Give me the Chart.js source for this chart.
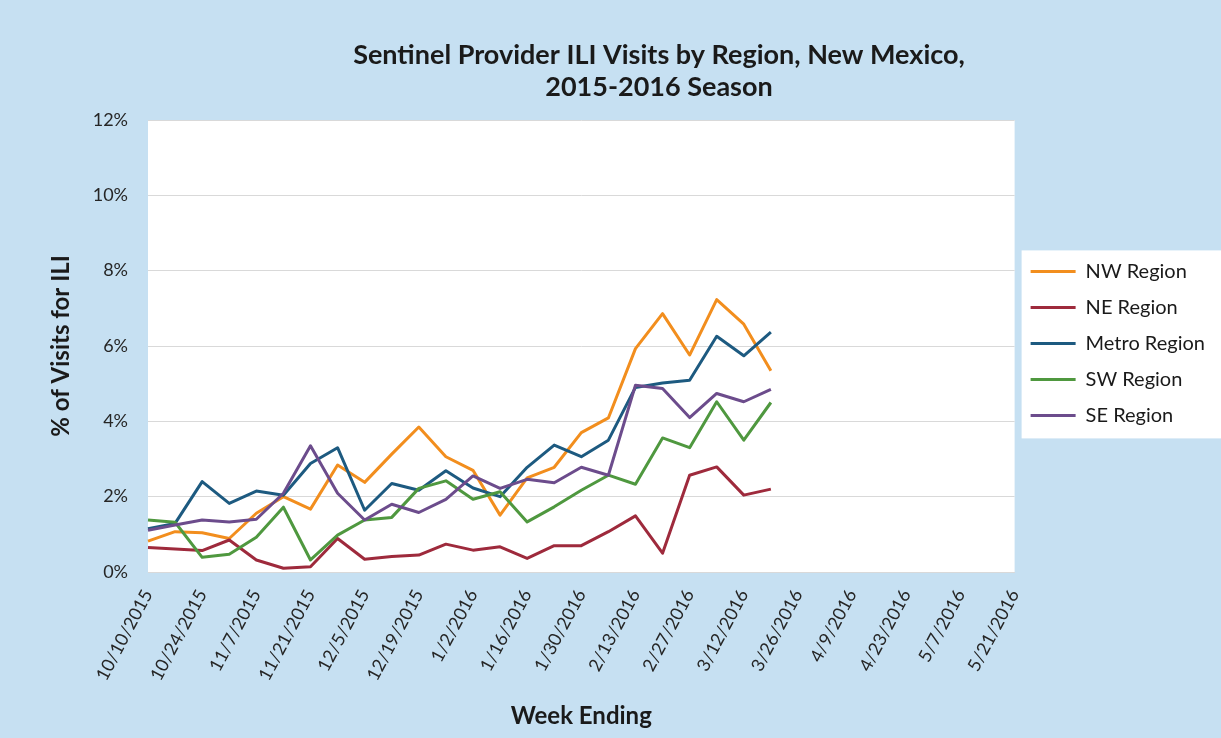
<!DOCTYPE html>
<html>
<head>
<meta charset="utf-8">
<script src="https://cdn.jsdelivr.net/npm/chart.js@4"></script>
<style>
  body { margin: 0; background: #c6e0f2; }
  #wrap { width: 1221px; height: 738px; }
</style>
</head>
<body>
<div id="wrap"><canvas id="iliChart" width="1221" height="738"></canvas></div>
<script>
// week ending dates, every week of the season
var weeks = ['10/10/2015','10/17/2015','10/24/2015','10/31/2015','11/7/2015','11/14/2015','11/21/2015',
  '11/28/2015','12/5/2015','12/12/2015','12/19/2015','12/26/2015','1/2/2016','1/9/2016','1/16/2016',
  '1/23/2016','1/30/2016','2/6/2016','2/13/2016','2/20/2016','2/27/2016','3/5/2016','3/12/2016',
  '3/19/2016','3/26/2016','4/2/2016','4/9/2016','4/16/2016','4/23/2016','4/30/2016','5/7/2016',
  '5/14/2016','5/21/2016'];

// % of visits for ILI
var nwRegion = [0.82,1.07,1.04,0.89,1.56,2.00,1.67,2.84,2.38,3.13,3.85,3.06,2.70,1.51,2.50,2.78,3.70,4.09,5.93,6.86,5.76,7.23,6.58,5.34];
var neRegion = [0.65,0.61,0.57,0.85,0.32,0.10,0.14,0.89,0.34,0.41,0.45,0.74,0.58,0.67,0.36,0.70,0.70,1.07,1.49,0.50,2.57,2.79,2.04,2.20];
var metroRegion = [1.15,1.29,2.40,1.82,2.15,2.04,2.88,3.30,1.64,2.35,2.17,2.69,2.23,2.00,2.78,3.37,3.06,3.50,4.90,5.02,5.09,6.26,5.74,6.37];
var swRegion = [1.38,1.32,0.39,0.47,0.92,1.72,0.32,0.98,1.38,1.45,2.22,2.42,1.93,2.13,1.33,1.73,2.17,2.57,2.33,3.56,3.30,4.52,3.50,4.50];
var seRegion = [1.11,1.25,1.38,1.33,1.40,2.09,3.35,2.09,1.38,1.80,1.58,1.93,2.55,2.22,2.46,2.37,2.78,2.57,4.96,4.87,4.10,4.74,4.52,4.85];

var titleLines = ['Sentinel Provider ILI Visits by Region, New Mexico,', '2015-2016 Season'];

function line(label, data, color, order) {
  return {
    label: label,
    data: data,
    borderColor: color,
    backgroundColor: color,
    borderWidth: 3,
    pointRadius: 0,
    tension: 0,
    borderJoinStyle: 'round',
    order: order
  };
}

// light blue page, white plot area and white legend box, title on top
var backdrop = {
  id: 'backdrop',
  beforeDraw: function(chart) {
    var c = chart.ctx, a = chart.chartArea;
    c.save();
    c.fillStyle = '#c6e0f2';
    c.fillRect(0, 0, chart.width, chart.height);
    c.fillStyle = '#ffffff';
    c.fillRect(a.left, a.top, a.right - a.left, a.bottom - a.top);
    var hb = chart.legend.legendHitBoxes;
    if (hb && hb.length) {
      var last = hb[hb.length - 1];
      var top = hb[0].top - 11;
      var bottom = last.top + last.height + 13;
      c.fillRect(a.right + 7, top, chart.width - a.right - 7, bottom - top);
    }
    c.restore();
  },
  afterDraw: function(chart) {
    var c = chart.ctx;
    c.save();
    c.fillStyle = '#1a1a1a';
    c.font = 'bold 27px Lato';
    c.textAlign = 'center';
    c.textBaseline = 'middle';
    c.fillText(titleLines[0], 659, 55);
    c.fillText(titleLines[1], 659, 87);
    c.restore();
  }
};

var ctx = document.getElementById('iliChart');
var iliChart = new Chart(ctx, {
  type: 'line',
  data: {
    labels: weeks,
    datasets: [
      line('NW Region', nwRegion, '#f28e1e', 5),
      line('NE Region', neRegion, '#9e2a3c', 4),
      line('Metro Region', metroRegion, '#1d5a80', 3),
      line('SW Region', swRegion, '#4f983f', 2),
      line('SE Region', seRegion, '#6c4c8c', 1)
    ]
  },
  options: {
    responsive: false,
    animation: false,
    layout: { padding: { top: 120, left: 10, right: 6, bottom: 0 } },
    scales: {
      x: {
        offset: false,
        grid: { display: false },
        border: { display: true, color: '#d9d9d9', width: 1 },
        ticks: {
          autoSkip: false,
          maxRotation: 62,
          minRotation: 62,
          padding: 6,
          color: '#262626',
          font: { family: 'Lato', size: 18 },
          callback: function(v, i) { return i % 2 === 0 ? weeks[i] : ''; }
        },
        title: {
          display: true,
          text: 'Week Ending',
          color: '#1a1a1a',
          font: { family: 'Lato', size: 24, weight: 'bold' },
          padding: { top: 4, bottom: 7 }
        },
        afterFit: function(s) { s.height = 166; }
      },
      y: {
        min: 0,
        max: 12,
        grid: { color: '#d9d9d9', drawTicks: false },
        border: { display: false },
        ticks: {
          stepSize: 2,
          padding: 20,
          color: '#262626',
          font: { family: 'Lato', size: 18 },
          callback: function(v) { return v + '%'; }
        },
        title: {
          display: true,
          text: '% of Visits for ILI',
          color: '#1a1a1a',
          font: { family: 'Lato', size: 24, weight: 'bold' },
          padding: { top: 37, bottom: 0 }
        },
        afterFit: function(s) { s.width = 138; }
      }
    },
    plugins: {
      legend: {
        position: 'right',
        align: 'start',
        title: { display: true, text: '', font: { size: 12 }, padding: { top: 111, bottom: 0 } },
        labels: {
          usePointStyle: true,
          pointStyle: 'line',
          pointStyleWidth: 45,
          padding: 16,
          color: '#1a1a1a',
          font: { family: 'Lato', size: 20 },
          sort: function(a, b) { return a.datasetIndex - b.datasetIndex; }
        }
      },
      tooltip: { enabled: false }
    }
  },
  plugins: [backdrop]
});
</script>
</body>
</html>
